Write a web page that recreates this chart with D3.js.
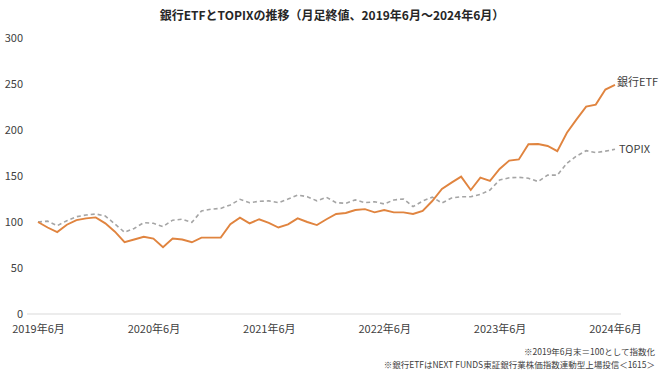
<!DOCTYPE html>
<html>
<head>
	<title>銀行ETFとTOPIX</title>
	<meta charset="UTF-8">
	<style>
		body {
			margin: 0;
			background: #fff;
		}

		text {
			font-family: "Noto Sans CJK JP", "Noto Sans", sans-serif;
			fill: #404040;
		}

		.title {
			font-weight: bold;
			font-size: 12px;
			fill: #262626;
		}

		.axis text {
			font-size: 11px;
		}

		.note {
			font-size: 8.5px;
		}

		.etf {
			fill: none;
			stroke: #e0843f;
			stroke-width: 1.9px;
		}

		.topix {
			fill: none;
			stroke: #a5a5a5;
			stroke-width: 1.6px;
			stroke-dasharray: 4, 3;
		}
	</style>
</head>
<body>
</body>
<script src="https://d3js.org/d3.v7.min.js"></script>
<script type="text/javascript">

'use strict';

// month-end values, 2019/6 .. 2024/6 (61 months), indexed to 100
var etf = [100, 94, 89, 97, 102, 104, 105, 98.5, 89.5, 78, 81, 84, 82, 72.5, 82, 81, 78, 83, 83, 83,
	97.5, 104.7, 98.5, 103, 99, 94, 97.5, 104, 100, 96.7, 103, 108.7, 109.8, 113, 114, 110.5, 113, 110.5, 110.5, 108.7,
	112, 122.8, 135.9, 142.8, 149.3, 134.8, 148.2, 144.6, 157.6, 166.7, 168, 184.5, 184.8, 182.6, 177, 197, 211.6, 225.4, 227.6, 244,
	249];
var topix = [100, 101, 96, 101.4, 105.8, 107.6, 108.7, 106.5, 97.8, 88.8, 93, 99.3, 98.6, 95, 102, 103, 99.6, 112, 114, 114.8,
	118.5, 124.6, 121, 122.5, 123, 121, 125, 129.3, 127.5, 123, 126.8, 121, 120.3, 124, 121, 122, 119.6, 124, 125, 116.7,
	122.8, 127, 120.6, 126, 127.5, 127.5, 130, 134.8, 145.7, 148, 148.6, 147.5, 144, 151, 151, 163.8, 171.7, 177.5, 175.4, 177,
	179];
var xTickIdx = [0, 12, 24, 36, 48, 60];
var xTickLabels = ["2019年6月", "2020年6月", "2021年6月", "2022年6月", "2023年6月", "2024年6月"];
var yTicks = [0, 50, 100, 150, 200, 250, 300];
var seriesNames = ["銀行ETF", "TOPIX"];
var title = "銀行ETFとTOPIXの推移（月足終値、2019年6月～2024年6月）";
var notes = ["※2019年6月末＝100として指数化", "※銀行ETFはNEXT FUNDS東証銀行業株価指数連動型上場投信＜1615＞"];

var width = 660;
var height = 371;

var x = d3.scaleLinear()
	.domain([0, 60])
	.range([38, 615]);

var y = d3.scaleLinear()
	.domain([0, 300])
	.range([314, 38]);

var svg = d3.select("body").append("svg")
	.attr("width", width)
	.attr("height", height);

svg.append("text")
	.attr("class", "title")
	.attr("x", 332)
	.attr("y", 20)
	.attr("text-anchor", "middle")
	.text(title);

// baseline only
svg.append("line")
	.attr("x1", 27)
	.attr("x2", 621)
	.attr("y1", y(0))
	.attr("y2", y(0))
	.style("stroke", "#d9d9d9")
	.style("stroke-width", 1);

var yAxis = svg.append("g")
	.attr("class", "axis")
	.attr("transform", "translate(23,0)")
	.call(d3.axisLeft(y).tickValues(yTicks).tickSize(0).tickPadding(0));
yAxis.select(".domain").remove();

var xAxis = svg.append("g")
	.attr("class", "axis")
	.attr("transform", "translate(0," + (y(0) + 6) + ")")
	.call(d3.axisBottom(x).tickValues(xTickIdx).tickSize(0).tickPadding(5)
		.tickFormat(function(d, i){ return xTickLabels[i]; }));
xAxis.select(".domain").remove();

var line = d3.line()
	.x(function(d, i){ return x(i); })
	.y(function(d){ return y(d); });

svg.append("path")
	.datum(topix)
	.attr("class", "topix")
	.attr("d", line);

svg.append("path")
	.datum(etf)
	.attr("class", "etf")
	.attr("d", line);

// end labels
svg.append("text")
	.attr("x", x(60) + 2)
	.attr("y", y(etf[60]) + 1)
	.style("font-size", "11px")
	.text(seriesNames[0]);

svg.append("text")
	.attr("x", x(60) + 4)
	.attr("y", y(topix[60]) + 4)
	.style("font-size", "11px")
	.text(seriesNames[1]);

svg.selectAll(".note")
	.data(notes)
.enter().append("text")
	.attr("class", "note")
	.attr("x", 655)
	.attr("y", function(d, i){ return 355 + i * 13; })
	.attr("text-anchor", "end")
	.text(function(d){ return d; });

</script>
</html>
